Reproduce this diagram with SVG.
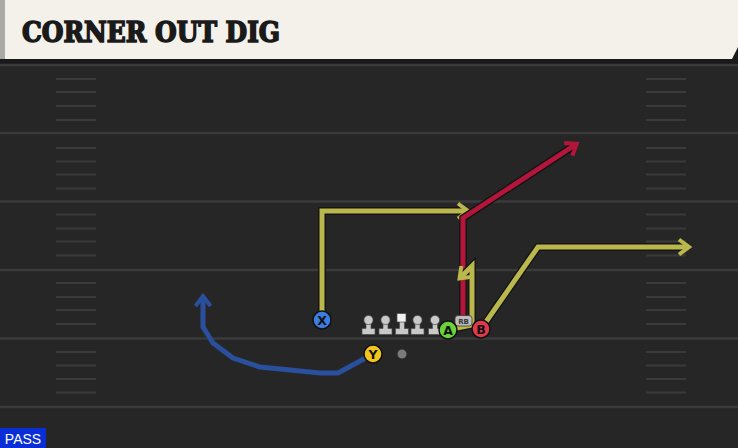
<svg xmlns="http://www.w3.org/2000/svg" width="738" height="448" viewBox="0 0 738 448">
<style>
.yard{stroke:#3b3b3b;stroke-width:2.5}
.hash{stroke:#3a3a3a;stroke-width:2}
.out{fill:none;stroke:#121212;stroke-width:7.5;stroke-linejoin:miter;stroke-linecap:butt}
.rt{fill:none;stroke-width:5;stroke-linejoin:miter;stroke-linecap:butt}
.yel{stroke:#bab74d}
.red{stroke:#b3163a}
.blu{stroke:#2a4f9c}
.lab{font-family:"DejaVu Sans",sans-serif;font-weight:bold;font-size:12.5px;fill:#111;text-anchor:middle}
.ol{fill:#c9c9c9;stroke:#4a4a4a;stroke-width:0.7}
</style>
<defs>
<marker id="ay" markerWidth="4" markerHeight="4" refX="2.3" refY="2" orient="auto" markerUnits="strokeWidth" viewBox="0 0 4 4">
<path d="M0.7,0.5 L2.7,2 L0.7,3.5" fill="none" stroke="#bab74d" stroke-width="0.8"/>
</marker>
<marker id="ar" markerWidth="4" markerHeight="4" refX="2.3" refY="2" orient="auto" markerUnits="strokeWidth" viewBox="0 0 4 4">
<path d="M0.7,0.5 L2.7,2 L0.7,3.5" fill="none" stroke="#b3163a" stroke-width="0.8"/>
</marker>
<marker id="ab" markerWidth="4" markerHeight="4" refX="2.3" refY="2" orient="auto" markerUnits="strokeWidth" viewBox="0 0 4 4">
<path d="M0.7,0.5 L2.7,2 L0.7,3.5" fill="none" stroke="#2a4f9c" stroke-width="0.8"/>
</marker>
<g id="lm">
<path d="M-2.5,-5 L2.5,-5 L2.5,3.5 L6.5,3.5 L6.5,9.5 L-6.5,9.5 L-6.5,3.5 L-2.5,3.5 Z" class="ol"/>
<circle cx="0" cy="-5" r="4.6" class="ol"/>
</g>
</defs>
<rect x="0" y="0" width="738" height="448" fill="#262626"/>
<rect x="0" y="58" width="738" height="6" fill="#1a1a1a"/>
<g id="field">
<line class="yard" x1="0" y1="65" x2="738" y2="65"/>
<line class="yard" x1="0" y1="133" x2="738" y2="133"/>
<line class="yard" x1="0" y1="201.5" x2="738" y2="201.5"/>
<line class="yard" x1="0" y1="270" x2="738" y2="270"/>
<line class="yard" x1="0" y1="338.5" x2="738" y2="338.5"/>
<line class="yard" x1="0" y1="407" x2="738" y2="407"/>
<g id="hl">
<line class="hash" x1="56" y1="79" x2="96" y2="79"/><line class="hash" x1="56" y1="92" x2="96" y2="92"/><line class="hash" x1="56" y1="106" x2="96" y2="106"/><line class="hash" x1="56" y1="120" x2="96" y2="120"/>
<line class="hash" x1="56" y1="148" x2="96" y2="148"/><line class="hash" x1="56" y1="161.5" x2="96" y2="161.5"/><line class="hash" x1="56" y1="174.5" x2="96" y2="174.5"/><line class="hash" x1="56" y1="188.5" x2="96" y2="188.5"/>
<line class="hash" x1="56" y1="214.5" x2="96" y2="214.5"/><line class="hash" x1="56" y1="228.5" x2="96" y2="228.5"/><line class="hash" x1="56" y1="241.5" x2="96" y2="241.5"/><line class="hash" x1="56" y1="255.5" x2="96" y2="255.5"/>
<line class="hash" x1="56" y1="283" x2="96" y2="283"/><line class="hash" x1="56" y1="297" x2="96" y2="297"/><line class="hash" x1="56" y1="310" x2="96" y2="310"/><line class="hash" x1="56" y1="324" x2="96" y2="324"/>
<line class="hash" x1="56" y1="352" x2="96" y2="352"/><line class="hash" x1="56" y1="365.5" x2="96" y2="365.5"/><line class="hash" x1="56" y1="379" x2="96" y2="379"/><line class="hash" x1="56" y1="392.5" x2="96" y2="392.5"/>
</g>
<use href="#hl" x="590"/>
</g>
<g id="header">
<rect x="0" y="0" width="738" height="59" fill="#f4f1ea"/>
<rect x="0" y="0" width="5" height="59" fill="#a9a9a6"/>
<path d="M738,47 L738,59 L732,59 Z" fill="#1a1a1a"/>
<text x="22" y="42" font-family="'DejaVu Serif',serif" font-weight="bold" font-size="27" fill="#1a1a1a" textLength="258" lengthAdjust="spacingAndGlyphs" stroke="#1a1a1a" stroke-width="1.6" stroke-linejoin="miter">CORNER OUT DIG</text>
</g>
<g id="connectors">
<polyline class="out" points="322,319 322,211 466,211"/>
<polyline class="rt yel" points="322,319 322,211 466,211" marker-end="url(#ay)"/>
<polyline class="out" points="463,320 463,218 575,145"/>
<polyline class="rt red" points="463,320 463,218 575,145" marker-end="url(#ar)"/>
<polyline class="out" points="447,330 472,325 472,266 461,277"/>
<polyline class="rt yel" points="447,330 472,325 472,266 461,277" marker-end="url(#ay)"/>
<polyline class="out" points="481,329 538,247 687,247"/>
<polyline class="rt yel" points="481,329 538,247 687,247" marker-end="url(#ay)"/>
<polyline class="rt blu" points="373,354 338,373 320,373 260,367 233,358 213,343 203,327 203,298" marker-end="url(#ab)"/>
</g>
<g id="linemen">
<use href="#lm" x="368.5" y="325"/>
<use href="#lm" x="385.5" y="325"/>
<g id="C"><path d="M399.5,321 L404.5,321 L404.5,328.5 L408.5,328.5 L408.5,334.5 L395.5,334.5 L395.5,328.5 L399.5,328.5 Z" class="ol"/><rect x="397" y="313.5" width="9" height="8.5" fill="#f2f2f2" stroke="#4a4a4a" stroke-width="0.7"/></g>
<use href="#lm" x="417.5" y="325"/>
<use href="#lm" x="435" y="325"/>
</g>
<g id="RB">
<rect x="455" y="315.5" width="17" height="10.5" rx="3" fill="#bdbdbd" stroke="#3a3a3a" stroke-width="0.8"/>
<text x="463.5" y="323.8" font-family="'DejaVu Sans',sans-serif" font-weight="bold" font-size="7" fill="#333" text-anchor="middle">RB</text>
</g>
<g id="dot"><circle cx="402" cy="354" r="4.5" fill="#7a7a7a"/></g>
<g id="X"><circle cx="322" cy="320" r="9" fill="#3b7de0" stroke="#111" stroke-width="1.5"/><text class="lab" x="322" y="324.5">X</text></g>
<g id="Y"><circle cx="373" cy="354" r="9" fill="#f2c51c" stroke="#111" stroke-width="1.5"/><text class="lab" x="373" y="358.5">Y</text></g>
<g id="A"><circle cx="448" cy="330" r="9" fill="#6bd23a" stroke="#111" stroke-width="1.5"/><text class="lab" x="448" y="334.5">A</text></g>
<g id="B"><circle cx="481" cy="329" r="9" fill="#e2384c" stroke="#111" stroke-width="1.5"/><text class="lab" x="481" y="333.5">B</text></g>
<g id="pass">
<rect x="0" y="428" width="46" height="20" fill="#0a2ed6"/>
<text x="23" y="444" font-family="'Liberation Sans',sans-serif" font-size="14" fill="#fff" text-anchor="middle">PASS</text>
</g>
</svg>
